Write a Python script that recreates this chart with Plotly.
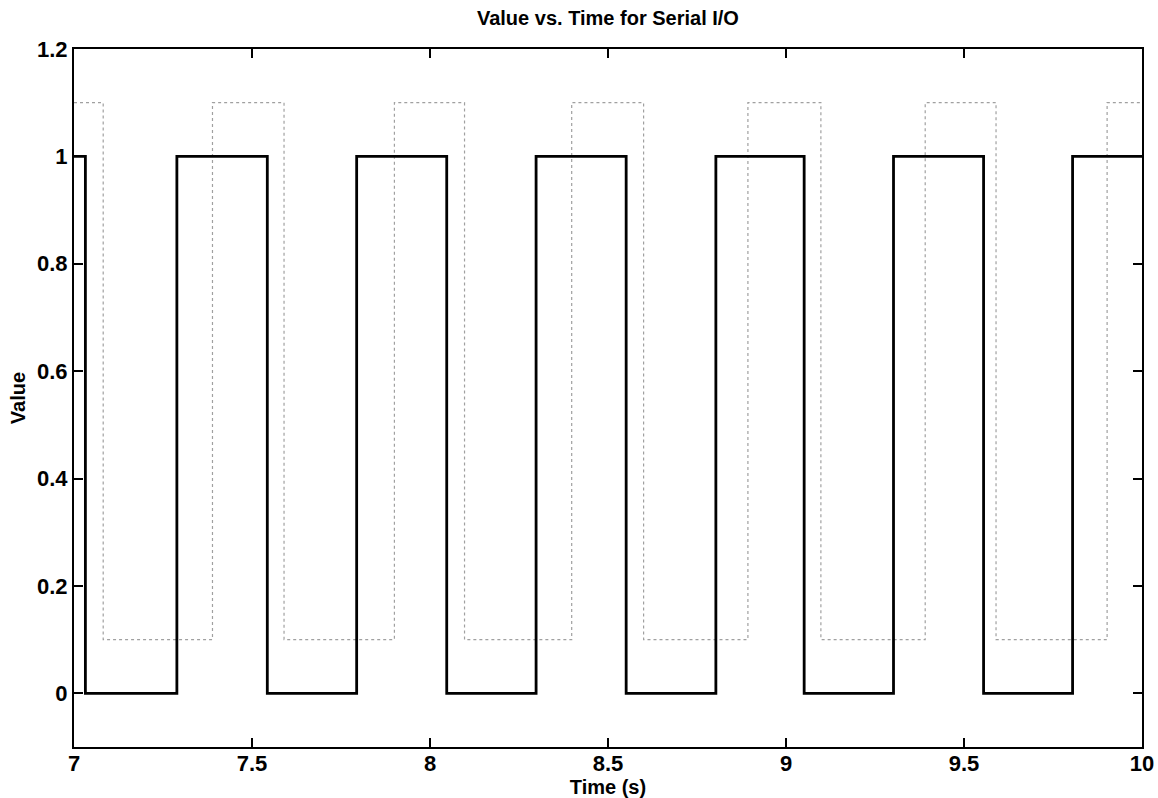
import plotly.graph_objects as go

# Serial I/O traces: times of each level change (s) and the level held from that time on
clock_time = [7.0, 7.032, 7.289, 7.543, 7.794, 8.047, 8.298, 8.551, 8.803,
              9.051, 9.302, 9.555, 9.805, 10.0]
clock_value = [1, 0, 1, 0, 1, 0, 1, 0, 1, 0, 1, 0, 1, 1]

data_time = [7.0, 7.082, 7.389, 7.590, 7.900, 8.097, 8.398, 8.600, 8.893,
             9.098, 9.391, 9.590, 9.902, 10.0]
data_value = [1.1, 0.1, 1.1, 0.1, 1.1, 0.1, 1.1, 0.1, 1.1, 0.1, 1.1, 0.1, 1.1, 1.1]

x_ticks = [7, 7.5, 8, 8.5, 9, 9.5, 10]
x_tick_text = ["7", "7.5", "8", "8.5", "9", "9.5", "10"]
y_ticks = [0, 0.2, 0.4, 0.6, 0.8, 1.0, 1.2]
y_tick_text = ["0", "0.2", "0.4", "0.6", "0.8", "1", "1.2"]

FONT = "Liberation Sans, Arial, sans-serif"

fig = go.Figure()
fig.add_trace(go.Scatter(
    x=data_time, y=data_value, mode="lines", line_shape="hv",
    line=dict(color="#a0a0a0", width=1.2, dash="dot"), showlegend=False,
))
fig.add_trace(go.Scatter(
    x=clock_time, y=clock_value, mode="lines", line_shape="hv",
    line=dict(color="black", width=2.8), showlegend=False,
))

axis_common = dict(
    showgrid=False, zeroline=False, showline=True, linecolor="black", linewidth=2,
    mirror="ticks", ticks="inside", ticklen=9, tickwidth=2, tickcolor="black",
    automargin=False,
    tickfont=dict(family=FONT, size=22, color="black", weight="bold"),
)

fig.update_layout(
    width=1158, height=798,
    margin=dict(l=74, r=16, t=49, b=51),
    paper_bgcolor="white", plot_bgcolor="white",
    title=dict(text="<b>Value vs. Time for Serial I/O</b>", x=0.525, xanchor="center",
               y=0.978, yanchor="middle",
               font=dict(family=FONT, size=20, color="black")),
    xaxis=dict(range=[7, 10], tickvals=x_ticks, ticktext=x_tick_text,
               ticklabelstandoff=-4,
               title=dict(text="<b>Time (s)</b>", standoff=4,
                          font=dict(family=FONT, size=20, color="black")),
               **axis_common),
    yaxis=dict(range=[-0.1, 1.2], tickvals=y_ticks, ticktext=y_tick_text,
               title=dict(text="<b>Value</b>", standoff=6,
                          font=dict(family=FONT, size=20, color="black")),
               **axis_common),
)

fig.write_html("out.html")
